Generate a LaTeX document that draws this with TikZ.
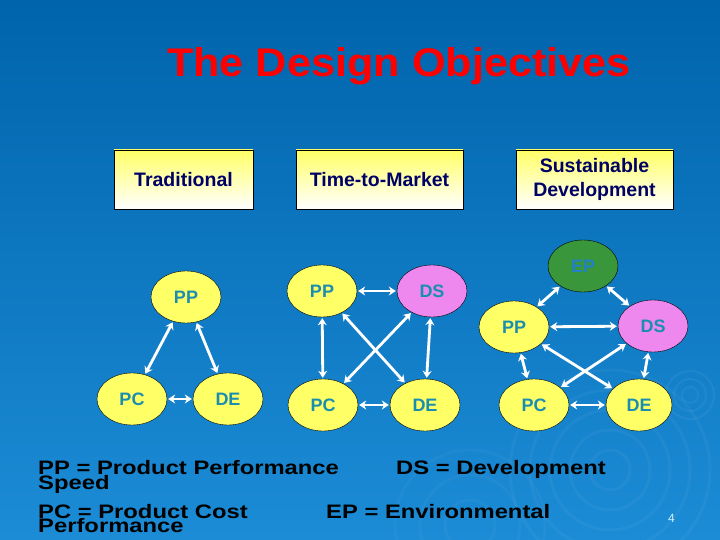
\documentclass[tikz,border=0pt]{standalone}
\usepackage{fontspec}
\setmainfont{Liberation Sans}
\newfontfamily\titlefont[FakeStretch=1.08]{Liberation Sans}
\newfontfamily\legendfont[FakeStretch=1.22]{Liberation Sans}
\usepackage{tikz}
\usepackage{xcolor}
\usetikzlibrary{shapes.geometric,arrows.meta}
\definecolor{slidetopc}{HTML}{0064AC}
\definecolor{slidebottomc}{HTML}{1C8CD6}
\definecolor{titleredc}{HTML}{FF0000}
\definecolor{boxtextc}{HTML}{000066}
\definecolor{ovalyellowc}{HTML}{FFFF66}
\definecolor{ovalpinkc}{HTML}{EE88EE}
\definecolor{ovalgreenc}{HTML}{3A963A}
\definecolor{ovaltextc}{HTML}{1B8DB0}
\definecolor{eptextc}{HTML}{2080C8}
\colorlet{boxtopcolor}{ovalyellowc}
\colorlet{ripplecolor}{white}
\tikzstyle{objbox} = [
    draw=black,
    thin,
    rectangle,
    top color=boxtopcolor,
    bottom color=white,
    text=boxtextc,
    font=\bfseries\fontsize{19.5}{24}\selectfont,
    align=center,
    minimum height=59pt
    ]
\tikzstyle{oval} = [
    ellipse,
    draw=black,
    thin,
    fill=ovalyellowc,
    text=ovaltextc,
    font=\bfseries\fontsize{18}{20}\selectfont,
    minimum width=70pt,
    minimum height=52pt,
    inner sep=0pt
    ]
\tikzstyle{pinkoval} = [oval, fill=ovalpinkc]
\tikzstyle{greenoval} = [oval, fill=ovalgreenc, text=eptextc]
\tikzstyle{twoway} = [
    draw=white,
    line width=2.8pt,
    {Stealth[length=7pt,width=9pt]}-{Stealth[length=7pt,width=9pt]},
    shorten <=1pt,
    shorten >=1pt
    ]
\tikzstyle{legendtext} = [
    anchor=base west,
    inner sep=0pt,
    text=black,
    font=\legendfont\bfseries\fontsize{19.5}{20}\selectfont
    ]
\begin{document}
\begin{tikzpicture}[x=1pt,y=-1pt]
% slide background
\shade[top color=slidetopc, bottom color=slidebottomc] (0,0) rectangle (720,540);
\useasboundingbox (0,0) rectangle (720,540);
\foreach \r in {20,40,60,80,100}
    \draw[ripplecolor, opacity=0.04, line width=3pt] (610,470) circle (\r);
\foreach \r in {8,16,24}
    \draw[ripplecolor, opacity=0.05, line width=2pt] (690,395) circle (\r);
\foreach \r in {25,50,75}
    \draw[ripplecolor, opacity=0.03, line width=3pt] (470,525) circle (\r);

\node[anchor=base west, inner sep=0pt, text=titleredc,
      font=\titlefont\bfseries\fontsize{40}{48}\selectfont] (title) at (167,77) {The Design Objectives};

\node[objbox, minimum width=139pt] (trad) at (183.5,179.5) {Traditional};
\node[objbox, minimum width=167pt] (ttm) at (379.5,179.5) {Time-to-Market};
\node[objbox, minimum width=157pt] (sust) at (594.5,179.5) {Sustainable\\Development};

% traditional
\node[oval] (tPP) at (186,297) {PP};
\node[oval] (tPC) at (132,399) {PC};
\node[oval] (tDE) at (228,399) {DE};
\draw[twoway] (tPP) -- (tPC);
\draw[twoway] (tPP) -- (tDE);
\draw[twoway] (tPC) -- (tDE);

% time-to-market
\node[oval] (mPP) at (322,291) {PP};
\node[pinkoval] (mDS) at (432,291) {DS};
\node[oval] (mPC) at (323,405) {PC};
\node[oval] (mDE) at (425,405) {DE};
\draw[twoway] (mPP) -- (mDS);
\draw[twoway] (mPP) -- (mPC);
\draw[twoway] (mPC) -- (mDE);
\draw[twoway] (mDS) -- (mDE);
\draw[twoway] (mPP) -- (mDE);
\draw[twoway] (mPC) -- (mDS);

% sustainable development
\node[greenoval] (sEP) at (583,266) {EP};
\node[oval] (sPP) at (514,327) {PP};
\node[pinkoval] (sDS) at (653,326) {DS};
\node[oval] (sPC) at (534,405) {PC};
\node[oval, minimum width=66pt] (sDE) at (639,405) {DE};
\draw[twoway] (sEP) -- (sPP);
\draw[twoway] (sEP) -- (sDS);
\draw[twoway] (sPP) -- (sDS);
\draw[twoway] (sPP) -- (sPC);
\draw[twoway] (sDS) -- (sDE);
\draw[twoway] (sPC) -- (sDE);
\draw[twoway] (sPP) -- (sDE);
\draw[twoway] (sPC) -- (sDS);

% legend
\node[legendtext] (legPP) at (38,474) {PP = Product Performance};
\node[legendtext] (legDS) at (396,474) {DS = Development};
\node[legendtext] (legSpeed) at (38,489) {Speed};
\node[legendtext] (legPC) at (38,518) {PC = Product Cost};
\node[legendtext] (legEP) at (326,518) {EP = Environmental};
\node[legendtext] (legPerf) at (38,532) {Performance};
\node[anchor=base west, inner sep=0pt, text=white!85!cyan, font=\fontsize{12}{14}\selectfont] (pagenum) at (668,522) {4};
\end{tikzpicture}
\end{document}
